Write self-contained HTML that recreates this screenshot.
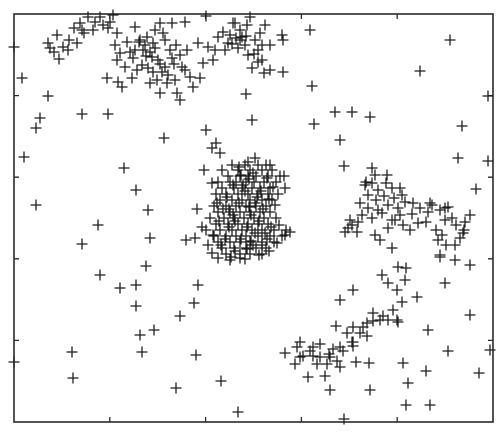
<!DOCTYPE html>
<html><head><meta charset="utf-8"><style>
html,body{margin:0;padding:0;background:#fff;}
svg{display:block;font-family:"Liberation Sans",sans-serif;}
</style></head><body>
<svg id="chart" width="501" height="434" viewBox="0 0 501 434">
<rect x="14" y="14" width="479" height="408" fill="#fff" stroke="#2a2a2a" stroke-width="1.6"/>
<g id="ticks"></g>
<g id="marks"></g>
</svg>
<script>
const xDomain = [0, 479];
const yDomain = [0, 408];
const tickFractions = [0.2, 0.4, 0.6, 0.8];

const scattered = [[0,33],[8,64],[34,82],[26,104],[22,114],[10,143],[22,191],[68,100],[94,100],[110,154],[122,176],[84,211],[68,230],[134,196],[136,224],[132,252],[86,261],[106,274],[122,271],[122,292],[126,321],[140,316],[166,302],[180,289],[184,271],[172,226],[150,124],[192,116],[198,134],[190,156],[232,80],[238,106],[192,2],[296,16],[250,59],[298,72],[321,98],[338,98],[326,126],[300,110],[330,152],[356,103],[406,57],[436,26],[448,112],[444,144],[474,82],[474,147],[449,219],[456,251],[456,301],[476,336],[465,359],[392,254],[378,234],[431,269],[462,175],[358,154],[339,276],[326,286],[322,312],[414,316],[434,337],[389,349],[394,369],[392,391],[416,391],[356,376],[342,348],[316,376],[224,398],[330,405],[162,374],[182,341],[128,338],[58,338],[59,364],[0,348],[207,367],[412,357],[355,349]];

const topCluster = [[34,29],[36,34],[43,21],[45,45],[49,33],[55,26],[60,14],[63,29],[66,9],[70,19],[74,3],[79,16],[86,3],[89,11],[94,14],[99,1],[101,31],[103,19],[106,39],[113,28],[116,38],[119,44],[121,13],[125,28],[128,51],[129,36],[133,23],[134,54],[138,43],[139,29],[143,66],[146,9],[146,79],[149,19],[151,53],[156,36],[158,9],[161,66],[163,79],[166,86],[168,53],[171,8],[173,36],[176,63],[179,73],[184,29],[186,64],[189,49],[194,33],[199,46],[204,23],[209,18],[214,29],[219,9],[228,23],[233,11],[93,64],[104,68],[108,73],[118,64],[123,56],[136,69],[153,69],[103,46],[111,53],[221,9],[226,16],[236,3],[246,19],[251,11],[256,31],[231,31],[234,41],[244,36],[248,46],[256,56],[269,58],[268,21],[269,26],[226,26],[222,24],[238,54],[244,48],[126,26],[131,31],[136,38],[141,34],[144,46],[148,58],[154,61],[158,44],[162,31],[166,41],[171,56],[121,36],[141,16],[151,26],[216,21],[211,36],[201,36],[241,26],[248,31],[224,34],[81,8],[68,16],[96,8],[54,36],[40,38],[132,42],[146,50],[160,50],[139,58],[218,30],[232,22],[240,40]];

const centerRowY = [151,156,162,168,174,180,186,192,198,204,210,216,222,228,234,240];
const centerRowX = [
 [218,231,244,252],[208,224,236,248,258],[214,226,234,242,254,266],[204,216,222,232,240,250,262],
 [208,220,228,238,246,256],[202,212,224,234,244,254,264],[206,218,228,236,248,258],[200,212,222,232,242,252],
 [204,216,226,236,246,256],[196,210,220,230,240,250,262],[202,214,224,234,244,254],[192,206,218,228,238,248,260,272],
 [200,212,222,232,244,256,268],[204,216,226,236,248,260],[208,220,232,242,252],[212,226,236,248]];
const centerExtra = [[225,153],[239,159],[253,164],[219,171],[235,165],[247,177],[213,183],[231,177],[241,189],[255,185],[209,195],[225,189],[237,201],[249,195],[261,191],[205,207],[219,201],[233,213],[245,207],[257,213],[199,221],[215,213],[227,225],[241,219],[253,225],[265,211],[207,231],[221,237],[239,231],[255,237],[217,243],[231,245],[245,241],[229,171],[243,183],[221,207],[235,193],[251,219],[227,161],[259,173],[211,225],[233,235],[203,189],[263,229],[237,227],[215,195]];
const centerOutliers = [[202,129],[206,139],[198,169],[183,195],[188,213],[181,224],[194,231],[198,239],[204,244],[216,246],[226,244],[248,231],[276,218],[271,221],[270,162],[271,174],[241,144],[234,148],[256,151]];

const rightCluster = [[351,171],[358,169],[364,176],[372,169],[378,174],[386,174],[354,181],[362,186],[370,182],[380,184],[388,181],[346,189],[354,194],[364,196],[374,191],[384,194],[391,188],[348,201],[358,204],[368,199],[378,206],[386,201],[336,206],[334,214],[343,218],[361,221],[366,226],[381,206],[398,200],[406,194],[414,198],[404,209],[418,191],[426,196],[431,206],[434,193],[438,204],[442,211],[422,216],[428,221],[412,208],[424,226],[432,231],[426,241],[441,231],[446,224],[451,208],[456,201],[450,216],[389,211],[396,216],[374,214],[331,218],[338,211],[344,208],[399,189],[416,189],[431,194],[426,243],[441,246],[361,161],[373,161],[352,168]];

const diagonalCluster = [[368,261],[384,253],[391,266],[374,269],[383,276],[403,283],[388,288],[379,296],[374,306],[384,308],[359,299],[366,306],[353,309],[339,313],[346,319],[333,319],[338,328],[326,333],[349,313],[359,307],[369,302],[383,306],[353,322],[339,332],[329,337],[319,335],[306,330],[286,328],[283,333],[299,333],[289,342],[299,342],[306,343],[316,343],[323,347],[313,350],[303,350],[286,343],[281,350],[326,353],[311,362],[294,363],[271,339],[339,328],[315,340],[296,337]];

const L = 14, T = 14, W = 479, H = 408;
function xScale(v){ return L + (v - xDomain[0]) / (xDomain[1] - xDomain[0]) * W; }
function yScale(v){ return T + (v - yDomain[0]) / (yDomain[1] - yDomain[0]) * H; }
const NS = "http://www.w3.org/2000/svg";

const tg = document.getElementById('ticks');
let td = "";
tickFractions.forEach(f => {
  const x = xScale(xDomain[0] + f * (xDomain[1] - xDomain[0]));
  const y = yScale(yDomain[0] + f * (yDomain[1] - yDomain[0]));
  td += `M${x} ${T+H}v-5M${x} ${T}v5M${L} ${y}h5M${L+W} ${y}h-5`;
});
const tp = document.createElementNS(NS, 'path');
tp.setAttribute('d', td);
tp.setAttribute('stroke', '#2a2a2a');
tp.setAttribute('stroke-width', '1.3');


tg.appendChild(tp);

const centerCluster = [];
centerRowY.forEach((y, i) => centerRowX[i].forEach(x => centerCluster.push([x, y])));

const groups = [
  ['scattered-points', scattered], ['top-cluster', topCluster], ['center-cluster', centerCluster],
  ['center-cluster-extra', centerExtra], ['center-outliers', centerOutliers],
  ['right-cluster', rightCluster], ['diagonal-cluster', diagonalCluster]];
const mg = document.getElementById('marks');
groups.forEach(([name, pts]) => {
  let d = "";
  pts.forEach(p => {
    const x = xScale(p[0]), y = yScale(p[1]);
    d += `M${(x-5.5).toFixed(1)} ${y.toFixed(1)}h11M${x.toFixed(1)} ${(y-5.5).toFixed(1)}v11`;
  });
  const path = document.createElementNS(NS, 'path');
  path.setAttribute('d', d);
  path.setAttribute('stroke', '#1e1e1e');
  path.setAttribute('stroke-width', '1.3');
  path.setAttribute('fill', 'none');
  
  
  mg.appendChild(path);
});
</script>
</body></html>
